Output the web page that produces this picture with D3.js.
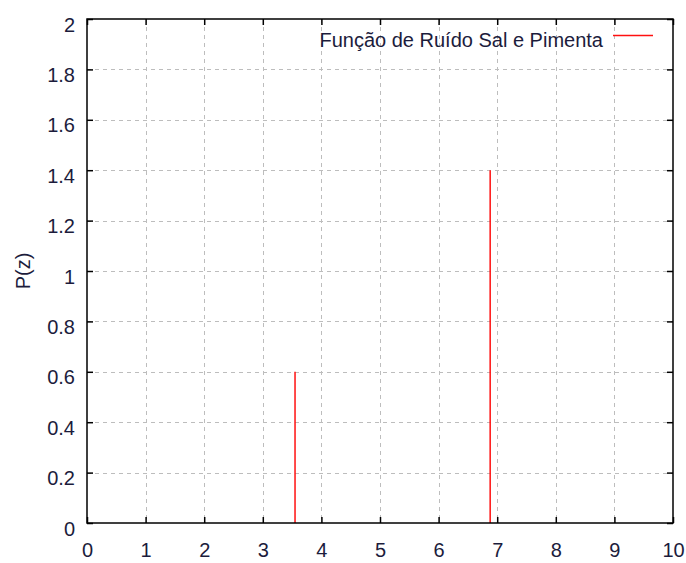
<!DOCTYPE html>
<html>
<head>
<meta charset="utf-8">
<script src="https://cdn.jsdelivr.net/npm/d3@7"></script>
<style>
  body { margin: 0; background: #fff; }
  text { font-family: "Liberation Sans", Arial, sans-serif; }
</style>
</head>
<body>
<svg id="chart"></svg>
<script>
// data
const xTicks = [0, 1, 2, 3, 4, 5, 6, 7, 8, 9, 10];
const yTicks = [0, 0.2, 0.4, 0.6, 0.8, 1, 1.2, 1.4, 1.6, 1.8, 2];
const spikeX = [3.55, 6.88];
const spikeY = [0.6, 1.4];
const seriesName = "Função de Ruído Sal e Pimenta";
const yLabel = "P(z)";

const width = 686, height = 563;
const margin = { top: 19, right: 13, bottom: 40, left: 87 };
const fontSize = "20px";

const svg = d3.select("#chart")
    .attr("width", width)
    .attr("height", height);

const x = d3.scaleLinear().domain([0, 10]).range([margin.left, width - margin.right]);
const y = d3.scaleLinear().domain([0, 2]).range([height - margin.bottom, margin.top]);

// grid
const grid = svg.append("g")
    .attr("stroke", "#bdbdbd")
    .attr("stroke-width", 1)
    .attr("stroke-dasharray", "4,4");

grid.selectAll("line.gx")
    .data(xTicks.slice(1, -1))
    .enter().append("line")
    .attr("x1", d => Math.round(x(d)) + 0.5).attr("x2", d => Math.round(x(d)) + 0.5)
    .attr("y1", y(2)).attr("y2", y(0));

grid.selectAll("line.gy")
    .data(yTicks.slice(1, -1))
    .enter().append("line")
    .attr("y1", d => Math.round(y(d)) + 0.5).attr("y2", d => Math.round(y(d)) + 0.5)
    .attr("x1", x(0)).attr("x2", x(10));

// spikes
const data = spikeX.map((v, i) => ({ x: v, y: spikeY[i] }));
svg.selectAll("line.spike")
    .data(data)
    .enter().append("line")
    .attr("class", "spike")
    .attr("x1", d => x(d.x)).attr("x2", d => x(d.x))
    .attr("y1", y(0)).attr("y2", d => y(d.y))
    .attr("stroke", "#ff1010")
    .attr("stroke-width", 1.5);

// axes with inward ticks, mirrored on all sides
const tickColor = "#1c1c3c";
const axBottom = svg.append("g")
    .attr("transform", `translate(0, ${y(0)})`)
    .call(d3.axisBottom(x).tickValues(xTicks).tickSize(-6).tickPadding(20).tickFormat(d3.format("d")));
const axTop = svg.append("g")
    .attr("transform", `translate(0, ${y(2)})`)
    .call(d3.axisTop(x).tickValues(xTicks).tickSize(-6).tickFormat(""));
const axLeft = svg.append("g")
    .attr("transform", `translate(${x(0)}, 0)`)
    .call(d3.axisLeft(y).tickValues(yTicks).tickSize(-6).tickPadding(12).tickFormat(d3.format("~g")));
const axRight = svg.append("g")
    .attr("transform", `translate(${x(10)}, 0)`)
    .call(d3.axisRight(y).tickValues(yTicks).tickSize(-6).tickFormat(""));

[axBottom, axTop, axLeft, axRight].forEach(g => {
    g.select(".domain").remove();
    g.selectAll(".tick line").attr("stroke", "#000").attr("stroke-width", 1.5);
    g.selectAll(".tick text").attr("fill", tickColor).style("font-size", fontSize);
});
axBottom.selectAll(".tick text").attr("dy", "0.71em");
axLeft.selectAll(".tick text").attr("dy", "0.6em");

// frame
svg.append("rect")
    .attr("x", x(0)).attr("y", y(2))
    .attr("width", x(10) - x(0)).attr("height", y(0) - y(2))
    .attr("fill", "none")
    .attr("stroke", "#000")
    .attr("stroke-width", 1.5);

// y label
svg.append("text")
    .attr("transform", `translate(30, ${(y(0) + y(2)) / 2}) rotate(-90)`)
    .attr("text-anchor", "middle")
    .attr("fill", tickColor)
    .style("font-size", fontSize)
    .text(yLabel);

// legend
svg.append("text")
    .attr("x", 603).attr("y", 47)
    .attr("text-anchor", "end")
    .attr("fill", tickColor)
    .style("font-size", fontSize)
    .text(seriesName);
svg.append("line")
    .attr("x1", 613).attr("x2", 653)
    .attr("y1", 35.5).attr("y2", 35.5)
    .attr("stroke", "#ff1010")
    .attr("stroke-width", 1.5);
</script>
</body>
</html>
